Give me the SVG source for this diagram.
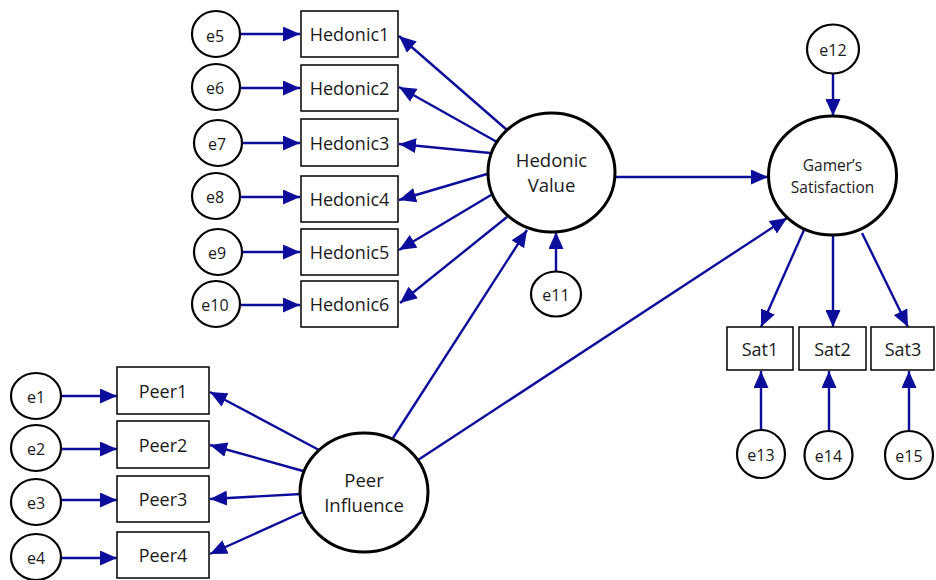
<svg xmlns="http://www.w3.org/2000/svg" width="936" height="580" viewBox="0 0 936 580">
<defs>
<marker id="ah" markerUnits="userSpaceOnUse" markerWidth="17" markerHeight="15" refX="17" refY="7.5" orient="auto">
<path d="M0,0 L17,7.5 L0,15 z" fill="#0d0d9c"/>
</marker>
<style>
.bg{fill:#ffffff}
.err{fill:#ffffff;stroke:#000;stroke-width:2.2}
.lat{fill:#ffffff;stroke:#000;stroke-width:3}
.box{fill:#ffffff;stroke:#000;stroke-width:1.5}
.c line{stroke:#0d0d9c;stroke-width:2.4;marker-end:url(#ah)}
text{font-family:"Open Sans","Noto Sans","Liberation Sans",sans-serif;fill:#1a1a1a;text-anchor:middle}
.t{font-size:18px}
.te{font-size:16px}
.tl{font-size:18.5px}
.tg{font-size:15.5px}
</style>
</defs>
<rect class="bg" x="0" y="0" width="936" height="580"/>
<g id="connectors" class="c">
<line x1="240" y1="34" x2="300" y2="34"/>
<line x1="240" y1="88" x2="300" y2="88"/>
<line x1="242" y1="143" x2="300" y2="143"/>
<line x1="240" y1="197" x2="300" y2="197"/>
<line x1="242" y1="252" x2="300" y2="252"/>
<line x1="240" y1="305" x2="300" y2="305"/>
<line x1="507" y1="130" x2="399" y2="36"/>
<line x1="497" y1="142" x2="399" y2="87"/>
<line x1="490" y1="153" x2="399" y2="144"/>
<line x1="487" y1="174" x2="399" y2="200"/>
<line x1="491" y1="195" x2="399" y2="250"/>
<line x1="507" y1="217" x2="400" y2="303"/>
<line x1="556" y1="271.5" x2="556" y2="232"/>
<line x1="615" y1="177" x2="768" y2="177"/>
<line x1="833" y1="74" x2="833" y2="116"/>
<line x1="804" y1="230" x2="761" y2="327"/>
<line x1="833" y1="235" x2="833" y2="327"/>
<line x1="862" y1="233" x2="908" y2="327"/>
<line x1="761" y1="430" x2="761" y2="371"/>
<line x1="829" y1="431" x2="829" y2="371"/>
<line x1="909" y1="431" x2="909" y2="371"/>
<line x1="61" y1="396" x2="117" y2="396"/>
<line x1="61" y1="449" x2="117" y2="449"/>
<line x1="61" y1="500" x2="117" y2="500"/>
<line x1="61" y1="558" x2="117" y2="558"/>
<line x1="319" y1="450" x2="210" y2="392"/>
<line x1="303" y1="471" x2="210" y2="445"/>
<line x1="301" y1="494" x2="210" y2="499"/>
<line x1="303" y1="512" x2="210" y2="554"/>
<line x1="393" y1="438" x2="527" y2="230"/>
<line x1="418" y1="460" x2="787" y2="218"/>
</g>
<g id="e5"><ellipse class="err" cx="216" cy="34" rx="24" ry="23"/><text class="te" x="215" y="41.5">e5</text></g>
<g id="e6"><ellipse class="err" cx="216" cy="87" rx="24" ry="23"/><text class="te" x="215" y="94">e6</text></g>
<g id="e7"><ellipse class="err" cx="218" cy="143" rx="24" ry="23"/><text class="te" x="217" y="150">e7</text></g>
<g id="e8"><ellipse class="err" cx="216" cy="196" rx="24" ry="23"/><text class="te" x="215" y="203">e8</text></g>
<g id="e9"><ellipse class="err" cx="218" cy="252" rx="24" ry="23"/><text class="te" x="217" y="259">e9</text></g>
<g id="e10"><ellipse class="err" cx="216" cy="304" rx="24" ry="23"/><text class="te" x="215" y="311">e10</text></g>
<g id="Hedonic1"><rect class="box" x="301" y="11" width="97" height="46"/><text class="t" x="349.5" y="41">Hedonic1</text></g>
<g id="Hedonic2"><rect class="box" x="301" y="65" width="97" height="46"/><text class="t" x="349.5" y="95">Hedonic2</text></g>
<g id="Hedonic3"><rect class="box" x="301" y="119" width="97" height="47"/><text class="t" x="349.5" y="149.5">Hedonic3</text></g>
<g id="Hedonic4"><rect class="box" x="301" y="176" width="97" height="46"/><text class="t" x="349.5" y="206">Hedonic4</text></g>
<g id="Hedonic5"><rect class="box" x="301" y="229" width="97" height="46"/><text class="t" x="349.5" y="259">Hedonic5</text></g>
<g id="Hedonic6"><rect class="box" x="301" y="281" width="97" height="46"/><text class="t" x="349.5" y="311">Hedonic6</text></g>
<g id="HedonicValue"><ellipse class="lat" cx="551.5" cy="172.5" rx="63.5" ry="59.5"/><text class="tl" x="551.5" y="167">Hedonic</text><text class="tl" x="551.5" y="192">Value</text></g>
<g id="e11"><ellipse class="err" cx="556" cy="294" rx="25" ry="22.5"/><text class="te" x="556" y="301">e11</text></g>
<g id="GamersSatisfaction"><ellipse class="lat" cx="832.5" cy="175.5" rx="64" ry="59.5"/><text class="tg" x="832.5" y="171">Gamer’s</text><text class="tg" x="832.5" y="193">Satisfaction</text></g>
<g id="e12"><ellipse class="err" cx="833" cy="49" rx="26" ry="24.5"/><text class="te" x="833" y="56">e12</text></g>
<g id="Sat1"><rect class="box" x="727" y="327" width="66" height="43"/><text class="t" x="760" y="355.5">Sat1</text></g>
<g id="Sat2"><rect class="box" x="799" y="327" width="67" height="43"/><text class="t" x="832.5" y="355.5">Sat2</text></g>
<g id="Sat3"><rect class="box" x="871" y="327" width="63" height="43"/><text class="t" x="903" y="355.5">Sat3</text></g>
<g id="e13"><ellipse class="err" cx="761" cy="454" rx="24" ry="24"/><text class="te" x="761" y="461">e13</text></g>
<g id="e14"><ellipse class="err" cx="828.5" cy="455" rx="24" ry="24"/><text class="te" x="828.5" y="462">e14</text></g>
<g id="e15"><ellipse class="err" cx="909" cy="455" rx="24" ry="24"/><text class="te" x="909" y="462">e15</text></g>
<g id="e1"><ellipse class="err" cx="36" cy="396" rx="25" ry="23"/><text class="te" x="36" y="403">e1</text></g>
<g id="e2"><ellipse class="err" cx="36" cy="448" rx="25" ry="23"/><text class="te" x="36" y="455">e2</text></g>
<g id="e3"><ellipse class="err" cx="36" cy="502" rx="25" ry="23"/><text class="te" x="36" y="509">e3</text></g>
<g id="e4"><ellipse class="err" cx="36" cy="557" rx="25" ry="23"/><text class="te" x="36" y="564">e4</text></g>
<g id="Peer1"><rect class="box" x="117" y="367" width="92" height="47"/><text class="t" x="163" y="398">Peer1</text></g>
<g id="Peer2"><rect class="box" x="117" y="421" width="92" height="47"/><text class="t" x="163" y="452">Peer2</text></g>
<g id="Peer3"><rect class="box" x="117" y="476" width="92" height="46"/><text class="t" x="163" y="506">Peer3</text></g>
<g id="Peer4"><rect class="box" x="117" y="532" width="92" height="46"/><text class="t" x="163" y="562">Peer4</text></g>
<g id="PeerInfluence"><ellipse class="lat" cx="364" cy="492.5" rx="64" ry="59.5"/><text class="tl" x="364" y="487">Peer</text><text class="tl" x="364" y="512">Influence</text></g>
</svg>
